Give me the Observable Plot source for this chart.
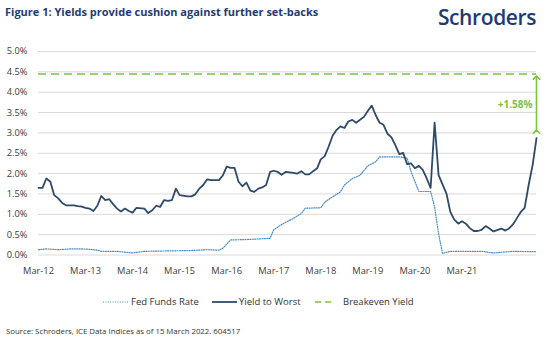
<!DOCTYPE html>
<html>
<head>
<meta charset="utf-8">
<script src="https://cdn.jsdelivr.net/npm/d3@7"></script>
<script src="https://cdn.jsdelivr.net/npm/@observablehq/plot@0.6"></script>
<style>
  html, body { margin: 0; padding: 0; background: #fff; }
  #page { position: relative; width: 554px; height: 345px; overflow: hidden; font-family: "Open Sans", sans-serif; }
  #title { position: absolute; left: 5px; top: 4px; font-size: 11px; font-weight: 700; color: #1f3c74; white-space: nowrap; }
  #logo { position: absolute; right: 18px; top: 3px; font-size: 21px; font-weight: 600; color: #1d3b72; letter-spacing: -0.4px; white-space: nowrap; }
  #chart { position: absolute; left: 0; top: 40px; }
  #legend { position: absolute; top: 295px; left: 0; width: 554px; height: 16px; font-size: 9.5px; color: #333; }
  .item { position: absolute; top: 0; white-space: nowrap; display: flex; align-items: center; }
  .item svg { margin-right: 2px; }
  #source { position: absolute; left: 6px; top: 326px; font-size: 7.8px; color: #333; white-space: nowrap; }
</style>
</head>
<body>
<div id="page">
  <div id="title">Figure 1: Yields provide cushion against further set-backs</div>
  <div id="logo">Schroders</div>
  <div id="chart"></div>
  <div id="legend"></div>
  <div id="source">Source: Schroders, ICE Data Indices as of 15 March 2022. 604517</div>
</div>
<script>
// ---- Data (months counted from Mar-2012) ----
const ytwMonth = [0,1,2,3,4,5,6,7,9,10,11,12,13,14,15,16,17,18,19,20,21,22,23,24,25,27,28,29,30,31,32,33,34,35,36,38,39,40,41,42,43,44,46,47,48,49,50,51,52,53,54,55,56,57,58,59,60,61,62,63,65,66,67,68,69,70,71,72,73,74,75,76,77,78,79,80,81,83,84,85,86,87,88,89,90,91,92,93,94,95,96,97,98,99,100,101,102,104,105,106,107,108,109,110,111,112,113,114,115,116,118,119,120,121,122,123,124,125,126,127];
const ytwValue = [1.65,1.65,1.88,1.80,1.47,1.39,1.28,1.22,1.22,1.20,1.19,1.16,1.14,1.08,1.21,1.45,1.35,1.37,1.25,1.14,1.07,1.14,1.08,1.04,1.16,1.14,1.03,1.10,1.21,1.18,1.35,1.33,1.35,1.63,1.47,1.44,1.44,1.49,1.63,1.72,1.86,1.84,1.84,1.96,2.17,2.14,2.14,1.80,1.69,1.78,1.58,1.55,1.63,1.66,1.72,2.04,2.07,2.04,1.97,2.04,2.02,2.00,2.06,1.98,1.98,2.06,2.13,2.35,2.43,2.66,2.93,3.07,3.16,3.12,3.28,3.32,3.25,3.40,3.54,3.67,3.44,3.25,3.20,2.98,2.89,2.70,2.48,2.51,2.23,2.25,2.13,2.19,2.09,1.88,1.65,3.25,1.96,1.51,1.06,0.87,0.77,0.83,0.77,0.66,0.59,0.59,0.62,0.71,0.65,0.58,0.65,0.60,0.65,0.75,0.90,1.06,1.16,1.72,2.21,2.87];

const ffrMonth = [0,2,5,8,11,13,15,16,20,24,27,33,39,43,46,47,49,53,59,60,62,64,65,67,68,72,73,75,77,78,80,82,84,86,87,92,94,95,97,100,101,102,103,105,113,116,121,127];
const ffrValue = [0.13,0.15,0.13,0.15,0.15,0.14,0.12,0.09,0.09,0.05,0.09,0.10,0.11,0.13,0.12,0.17,0.37,0.38,0.41,0.62,0.75,0.85,0.90,1.02,1.15,1.16,1.30,1.43,1.55,1.72,1.88,1.96,2.19,2.29,2.41,2.41,2.38,2.04,1.56,1.56,1.18,0.52,0.04,0.09,0.09,0.05,0.09,0.08];

const breakeven = 4.45;
const cushionLabel = "+1.58%";
const cushionFrom = 3.03;
const cushionTo = 4.36;
const cushionLabelAt = 3.70;

const yTicks = [0,0.5,1,1.5,2,2.5,3,3.5,4,4.5,5];
const xTickLabels = ["Mar-12","Mar-13","Mar-14","Mar-15","Mar-16","Mar-17","Mar-18","Mar-19","Mar-20","Mar-21"];

const legendItems = ["Fed Funds Rate","Yield to Worst","Breakeven Yield"];

// ---- Build tables ----
const monthDate = m => new Date(Date.UTC(2012, 2 + m, 1));
const ytw = ytwMonth.map((m, i) => ({date: monthDate(m), value: ytwValue[i]}));
const ffr = ffrMonth.map((m, i) => ({date: monthDate(m), value: ffrValue[i]}));
const xTicks = xTickLabels.map((_, i) => monthDate(12 * i));
const lastDate = monthDate(ytwMonth[ytwMonth.length - 1]);

const green = "#7cc242", navy = "#2e4a68", blue = "#4a8cc4";

const chart = Plot.plot({
  width: 554,
  height: 245,
  marginLeft: 38,
  marginRight: 18,
  marginTop: 11,
  marginBottom: 30.5,
  style: {fontFamily: "Open Sans, sans-serif", fontSize: "9.3px", color: "#404040", background: "transparent", overflow: "visible"},
  x: {type: "utc", domain: [monthDate(0), lastDate], ticks: xTicks,
      tickFormat: d => xTickLabels[d.getUTCFullYear() - 2012], tickSize: 0, tickPadding: 12, label: null},
  y: {domain: [0, 5], ticks: yTicks, tickFormat: d => d.toFixed(1) + "%", tickSize: 0, tickPadding: 11, label: null},
  marks: [
    Plot.ruleY(yTicks, {stroke: "#d9d9d9", strokeWidth: 1}),
    Plot.ruleY([breakeven], {stroke: green, strokeWidth: 1.5, strokeDasharray: "8,5"}),
    Plot.line(ffr, {x: "date", y: "value", stroke: blue, strokeWidth: 1.2, strokeDasharray: "1,1.4"}),
    Plot.line(ytw, {x: "date", y: "value", stroke: navy, strokeWidth: 1.8, curve: "linear"}),
    Plot.link([{x: lastDate}], {x1: "x", x2: "x", y1: () => cushionFrom, y2: () => cushionTo, stroke: green, strokeWidth: 1.6, markerStart: "arrow", markerEnd: "arrow"}),
    Plot.text([cushionLabel], {x: () => lastDate, y: () => cushionLabelAt, text: d => d, textAnchor: "end", dx: -4, fill: green, fontWeight: "bold", fontSize: 10})
  ]
});
document.getElementById("chart").appendChild(chart);

// ---- Legend ----
const legend = document.getElementById("legend");
const samples = [
  {left: 103, w: 26, svg: `<line x1="0" y1="5" x2="26" y2="5" stroke="${blue}" stroke-width="1.2" stroke-dasharray="1,1.4"/>`},
  {left: 212, w: 25, svg: `<line x1="0" y1="5" x2="25" y2="5" stroke="${navy}" stroke-width="1.8"/>`},
  {left: 315, w: 26, svg: `<line x1="0" y1="5" x2="20" y2="5" stroke="${green}" stroke-width="1.4" stroke-dasharray="6,4"/>`}
];
legendItems.forEach((name, i) => {
  const s = samples[i];
  const el = document.createElement("div");
  el.className = "item";
  el.style.left = s.left + "px";
  el.innerHTML = `<svg width="${s.w}" height="10">${s.svg}</svg><span>${name}</span>`;
  legend.appendChild(el);
});
</script>
</body>
</html>
